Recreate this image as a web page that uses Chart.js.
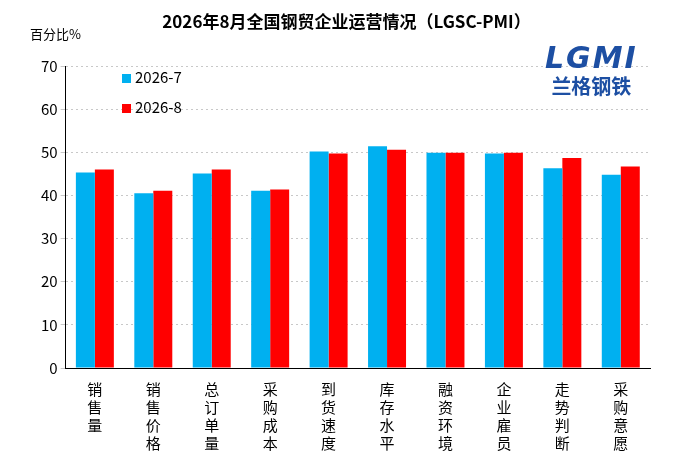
<!DOCTYPE html>
<html lang="en">
<head>
<meta charset="UTF-8">
<script src="https://cdn.jsdelivr.net/npm/chart.js"></script>
<style>
  body { margin: 0; background: #fff; }
  #wrap { position: relative; width: 693px; height: 463px; }
  #title { position: absolute; top: 8px; left: 0; width: 693px; text-align: center; font: bold 17px "Noto Sans CJK SC", sans-serif; color: #000; }
  #unit { position: absolute; top: 24px; left: 30px; font: 13px "Noto Sans CJK SC", sans-serif; }
  #logo { position: absolute; top: 40px; left: 545px; text-align: center; color: #1d4fa3; }
  #logo .a { font: italic bold 30px "DejaVu Sans", sans-serif; letter-spacing: 2px; }
  #logo .b { font: bold 20px "Noto Sans CJK SC", sans-serif; margin-top: -4px; }
  #legend { position: absolute; left: 122px; top: 66px; font: 15px "Noto Sans CJK SC", sans-serif; }
  #legend div { height: 30px; line-height: 22px; }
  #legend span { display: inline-block; width: 9px; height: 9px; margin-right: 4px; }
</style>
</head>
<body>
<div id="wrap">
  <canvas id="c" width="693" height="463"></canvas>
  <div id="title">2026年8月全国钢贸企业运营情况（LGSC-PMI）</div>
  <div id="unit">百分比%</div>
  <div id="logo"><div class="a">LGMI</div><div class="b">兰格钢铁</div></div>
  <div id="legend"></div>
</div>
<script>
const categories = ['销售量', '销售价格', '总订单量', '采购成本', '到货速度', '库存水平', '融资环境', '企业雇员', '走势判断', '采购意愿'];
const seriesNames = ['2026-7', '2026-8'];
const julyValues = [45.3, 40.5, 45.1, 41.1, 50.2, 51.4, 49.9, 49.7, 46.3, 44.8];
const augValues = [46.0, 41.1, 46.0, 41.4, 49.7, 50.6, 49.9, 49.9, 48.7, 46.7];
const colors = ['#00b0f0', '#ff0000'];

document.getElementById('legend').innerHTML = seriesNames.map((n, i) =>
  `<div><span style="background:${colors[i]}"></span>${n}</div>`).join('');

new Chart(document.getElementById('c'), {
  type: 'bar',
  data: {
    labels: categories.map(s => s.split('')),
    datasets: [
      { label: seriesNames[0], data: julyValues, backgroundColor: colors[0], categoryPercentage: 0.65, barPercentage: 1 },
      { label: seriesNames[1], data: augValues, backgroundColor: colors[1], categoryPercentage: 0.65, barPercentage: 1 }
    ]
  },
  options: {
    responsive: false,
    animation: false,
    layout: { padding: { top: 66, right: 43, left: 38, bottom: 7 } },
    plugins: { legend: { display: false }, tooltip: { enabled: false } },
    scales: {
      x: {
        grid: { display: false },
        border: { color: '#000' },
        ticks: { color: '#000', font: { size: 15, family: 'Noto Sans CJK SC', lineHeight: 1.2 }, maxRotation: 0, padding: 4 }
      },
      y: {
        min: 0, max: 70,
        ticks: { stepSize: 10, color: '#000', font: { size: 15, family: 'Noto Sans CJK SC' } },
        grid: { color: '#c8c8c8', tickLength: 5 },
        border: { color: '#000', dash: [2, 3] }
      }
    }
  }
});
</script>
</body>
</html>
